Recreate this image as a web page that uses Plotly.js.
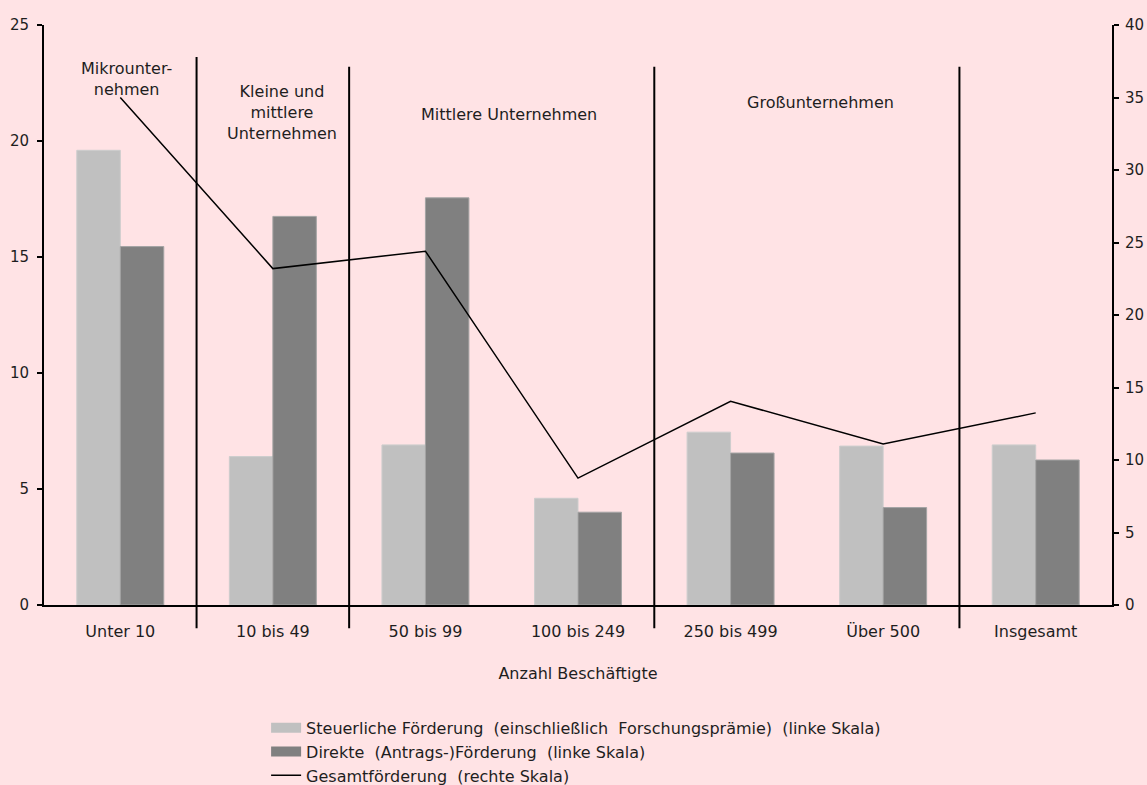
<!DOCTYPE html>
<html>
<head>
<meta charset="utf-8">
<script src="https://cdn.plot.ly/plotly-3.0.1.min.js"></script>
<style>
  html, body { margin: 0; padding: 0; background: #FFE3E5; }
  #chart { width: 1147px; height: 785px; }
</style>
</head>
<body>
<div id="chart"></div>
<script>
// ---- data ----
const categories = ["Unter 10", "10 bis 49", "50 bis 99", "100 bis 249", "250 bis 499", "Über 500", "Insgesamt"];
const steuerlich = [19.6, 6.4, 6.9, 4.6, 7.45, 6.85, 6.9];      // linke Skala
const direkt     = [15.45, 16.75, 17.55, 4.0, 6.55, 4.2, 6.25]; // linke Skala
const gesamt     = [35.0, 23.2, 24.4, 8.75, 14.05, 11.1, 13.25]; // rechte Skala
const seriesNames = [
  "Steuerliche Förderung  (einschließlich  Forschungsprämie)  (linke Skala)",
  "Direkte  (Antrags-)Förderung  (linke Skala)",
  "Gesamtförderung  (rechte Skala)"
];
const xTitle = "Anzahl Beschäftigte";
const groupBoundaries = [0.5, 1.5, 3.5, 5.5];
const groupLabels = ["Mikrounter-<br>nehmen", "Kleine und<br>mittlere<br>Unternehmen", "Mittlere Unternehmen", "Großunternehmen"];
const groupLabelX = [0.04, 1.06, 2.55, 4.59];

// ---- styling ----
const FONT = "DejaVu Sans, sans-serif";
const TXT = "#1e1e1e";
const BG = "#FFE3E5";
const LIGHT = "#C0C0C0";
const DARK = "#808080";

const traces = [
  {
    type: "bar", name: seriesNames[0], x: categories, y: steuerlich,
    marker: { color: LIGHT, line: { color: "#CDCDCD", width: 1 } },
    yaxis: "y", hoverinfo: "x+y", showlegend: false, legendgroup: "s"
  },
  {
    type: "bar", name: seriesNames[1], x: categories, y: direkt,
    marker: { color: DARK, line: { color: "#A4A4A4", width: 1 } },
    yaxis: "y", hoverinfo: "x+y", showlegend: false, legendgroup: "d"
  },
  // legend swatches (wide rectangles like the original legend)
  {
    type: "scatter", mode: "lines", name: seriesNames[0], x: [null], y: [null],
    line: { color: LIGHT, width: 12 }, legendgroup: "s", hoverinfo: "skip"
  },
  {
    type: "scatter", mode: "lines", name: seriesNames[1], x: [null], y: [null],
    line: { color: DARK, width: 12 }, legendgroup: "d", hoverinfo: "skip"
  },
  {
    type: "scatter", mode: "lines", name: seriesNames[2], x: categories, y: gesamt,
    line: { color: "#000000", width: 1.5 },
    yaxis: "y2", hoverinfo: "x+y"
  }
];

const shapes = groupBoundaries.map((b, i) => ({
  type: "line", xref: "x", yref: "paper",
  x0: b, x1: b, y0: -0.04, y1: i === 0 ? 0.945 : 0.928,
  line: { color: "#000000", width: 2 }
}));

const labelY = [0.907, 0.85, 0.845, 0.867];
const annotations = groupLabels.map((t, i) => ({
  text: t, xref: "x", yref: "paper", x: groupLabelX[i], y: labelY[i],
  xanchor: "center", yanchor: "middle", showarrow: false, align: "center",
  font: { family: FONT, size: 16, color: TXT }
}));

const axisCommon = {
  showgrid: false, zeroline: false, showline: true,
  linecolor: "#000000", linewidth: 2,
  ticks: "outside", ticklen: 5, tickwidth: 2, tickcolor: "#000000",
  tickfont: { family: FONT, size: 15, color: TXT },
  dtick: 5, fixedrange: true
};

const layout = {
  width: 1147, height: 785,
  margin: { l: 44, r: 35, t: 25, b: 180, pad: 0, autoexpand: false },
  paper_bgcolor: BG, plot_bgcolor: BG,
  font: { family: FONT, size: 16, color: TXT },
  barmode: "group", bargap: 0.43, bargroupgap: 0,
  showlegend: true,
  legend: {
    xref: "container", yref: "container",
    x: 0.232, xanchor: "left", y: 0.0945, yanchor: "top",
    orientation: "v", bgcolor: "rgba(0,0,0,0)", borderwidth: 0,
    font: { family: FONT, size: 16, color: TXT },
    tracegroupgap: 0, traceorder: "normal"
  },
  xaxis: {
    type: "category", range: [-0.5, 6.5],
    showgrid: false, zeroline: false, showline: true,
    linecolor: "#000000", linewidth: 2, ticks: "",
    tickfont: { family: FONT, size: 16, color: TXT },
    ticklabelstandoff: 11,
    title: { text: xTitle, font: { family: FONT, size: 16, color: TXT }, standoff: 28 },
    fixedrange: true, automargin: false
  },
  yaxis: Object.assign({}, axisCommon, { range: [0, 25], side: "left", ticklabelstandoff: 5, automargin: false }),
  yaxis2: Object.assign({}, axisCommon, { range: [0, 40], side: "right", overlaying: "y", ticklabelstandoff: 3, automargin: false }),
  shapes: shapes,
  annotations: annotations
};

Plotly.newPlot("chart", traces, layout, { displayModeBar: false, staticPlot: false });
</script>
</body>
</html>
